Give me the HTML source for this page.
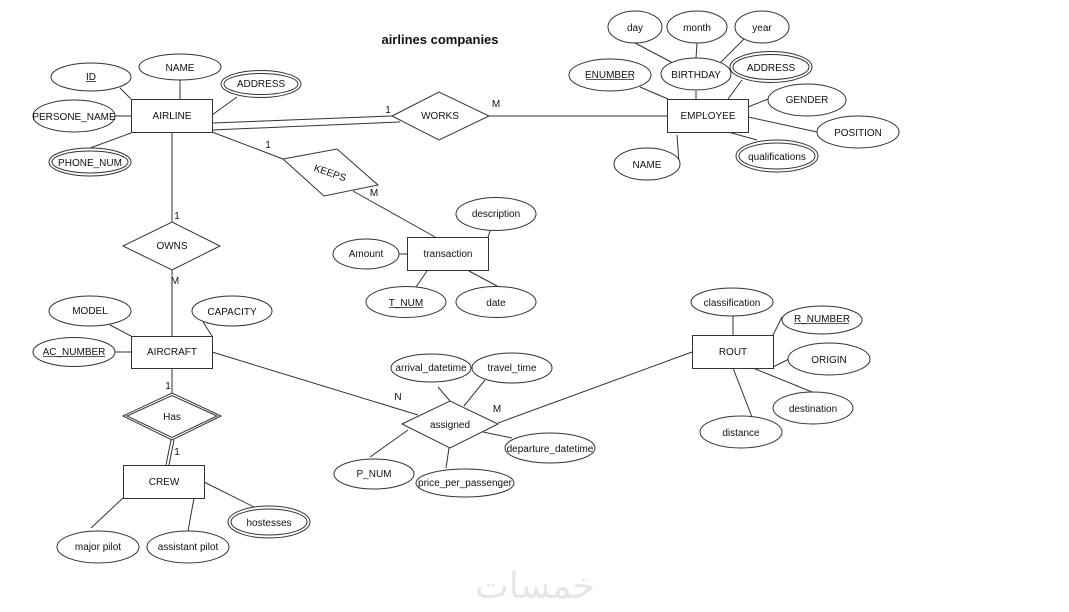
<!DOCTYPE html>
<html><head><meta charset="utf-8">
<style>
html,body{margin:0;padding:0;background:#fff;}
svg{display:block;}
text{font-family:"Liberation Sans",Arial,sans-serif;font-size:10px;fill:#111;}
</style></head>
<body>
<svg width="1069" height="612" viewBox="0 0 1069 612" xmlns="http://www.w3.org/2000/svg">
<g stroke="#333" stroke-width="1" fill="none">
<!-- AIRLINE attrs -->
<line x1="120" y1="88" x2="131" y2="99"/>
<line x1="180" y1="80" x2="180" y2="99"/>
<line x1="237" y1="97" x2="212" y2="115"/>
<line x1="115" y1="116" x2="131" y2="116"/>
<line x1="90" y1="148" x2="131" y2="133"/>
<!-- AIRLINE-WORKS double -->
<line x1="212" y1="123" x2="392" y2="116"/>
<line x1="212" y1="130" x2="400" y2="122"/>
<!-- WORKS-EMPLOYEE -->
<line x1="489" y1="116" x2="667" y2="116"/>
<!-- AIRLINE-KEEPS -->
<line x1="212" y1="132" x2="283" y2="159"/>
<line x1="353" y1="191" x2="435" y2="237"/>
<!-- AIRLINE-OWNS -->
<line x1="172" y1="132" x2="172" y2="222"/>
<line x1="172" y1="270" x2="172" y2="336"/>
<!-- EMPLOYEE attrs -->
<line x1="635" y1="43" x2="673" y2="63"/>
<line x1="697" y1="43" x2="696" y2="58"/>
<line x1="744" y1="39" x2="720" y2="63"/>
<line x1="696" y1="91" x2="696" y2="99"/>
<line x1="640" y1="87" x2="668" y2="99"/>
<line x1="742" y1="80" x2="728" y2="99"/>
<line x1="768" y1="99" x2="748" y2="107"/>
<line x1="748" y1="117" x2="817" y2="132"/>
<line x1="728" y1="132" x2="757" y2="140"/>
<line x1="677" y1="135" x2="679" y2="163"/>
<!-- transaction attrs -->
<line x1="490" y1="231" x2="488" y2="237"/>
<line x1="399" y1="254" x2="407" y2="254"/>
<line x1="427" y1="271" x2="416" y2="287"/>
<line x1="469" y1="271" x2="497" y2="286"/>
<!-- AIRCRAFT attrs -->
<line x1="110" y1="325" x2="131" y2="336"/>
<line x1="203" y1="322" x2="212" y2="336"/>
<line x1="115" y1="352" x2="131" y2="352"/>
<line x1="212" y1="352" x2="418" y2="415"/>
<!-- AIRCRAFT-Has -->
<line x1="172" y1="368" x2="172" y2="393"/>
<line x1="171" y1="440" x2="166" y2="465"/>
<line x1="174" y1="440" x2="169" y2="465"/>
<!-- CREW attrs -->
<line x1="123" y1="498" x2="91" y2="528"/>
<line x1="194" y1="498" x2="188" y2="531"/>
<line x1="204" y1="482" x2="258" y2="509"/>
<!-- assigned attrs -->
<line x1="438" y1="387" x2="450" y2="401"/>
<line x1="485" y1="380" x2="464" y2="406"/>
<line x1="483" y1="432" x2="512" y2="438"/>
<line x1="408" y1="430" x2="370" y2="457"/>
<line x1="449" y1="448" x2="446" y2="468"/>
<line x1="498" y1="423" x2="692" y2="352"/>
<!-- ROUT attrs -->
<line x1="733" y1="316" x2="733" y2="335"/>
<line x1="782" y1="317" x2="773" y2="335"/>
<line x1="789" y1="359" x2="773" y2="367"/>
<line x1="753" y1="368" x2="812" y2="392"/>
<line x1="733" y1="368" x2="752" y2="417"/>
</g>

<g stroke="#333" stroke-width="1" fill="#fff">
<!-- entities -->
<rect x="131.5" y="99.5" width="81" height="33"/>
<rect x="667.5" y="99.5" width="81" height="33"/>
<rect x="407.5" y="237.5" width="81" height="33"/>
<rect x="131.5" y="336.5" width="81" height="32"/>
<rect x="123.5" y="465.5" width="81" height="33"/>
<rect x="692.5" y="335.5" width="81" height="33"/>
<!-- relationships -->
<polygon points="392,116 439,92 489,116 439,140"/>
<polygon points="283,159 337,149 378,185 324,196"/>
<polygon points="123,246 172,222 220,246 172,270"/>
<polygon points="402,424 450,401 498,424 450,448"/>
<polygon points="123,416 172,393 221,416 172,440"/>
<polygon points="127,416 172,395.5 217,416 172,437.5"/>
<!-- AIRLINE attrs -->
<ellipse cx="91" cy="77" rx="40" ry="14"/>
<ellipse cx="180" cy="67" rx="41" ry="13"/>
<ellipse cx="261" cy="84" rx="40" ry="13.5"/>
<ellipse cx="261" cy="84" rx="37" ry="10.5"/>
<ellipse cx="74" cy="116" rx="41" ry="16"/>
<ellipse cx="90" cy="162" rx="41" ry="14"/>
<ellipse cx="90" cy="162" rx="38" ry="11"/>
<!-- EMPLOYEE attrs -->
<ellipse cx="635" cy="27" rx="27" ry="16"/>
<ellipse cx="697" cy="27" rx="30" ry="16"/>
<ellipse cx="762" cy="27" rx="27" ry="16"/>
<ellipse cx="696" cy="74" rx="35" ry="16"/>
<ellipse cx="610" cy="75" rx="41" ry="16"/>
<ellipse cx="771" cy="67" rx="41" ry="15.5"/>
<ellipse cx="771" cy="67" rx="38" ry="12.5"/>
<ellipse cx="807" cy="100" rx="39" ry="16"/>
<ellipse cx="858" cy="132" rx="41" ry="16"/>
<ellipse cx="777" cy="156" rx="41" ry="16"/>
<ellipse cx="777" cy="156" rx="38" ry="13"/>
<ellipse cx="647" cy="164" rx="33" ry="16"/>
<!-- transaction attrs -->
<ellipse cx="496" cy="214" rx="40" ry="16.5"/>
<ellipse cx="366" cy="254" rx="33" ry="15"/>
<ellipse cx="406" cy="302" rx="40" ry="15.5"/>
<ellipse cx="496" cy="302" rx="40" ry="15.5"/>
<!-- AIRCRAFT attrs -->
<ellipse cx="90" cy="311" rx="41" ry="15"/>
<ellipse cx="232" cy="311" rx="40" ry="15"/>
<ellipse cx="74" cy="352" rx="41" ry="14.5"/>
<!-- CREW attrs -->
<ellipse cx="98" cy="547" rx="41" ry="16"/>
<ellipse cx="188" cy="547" rx="41" ry="16"/>
<ellipse cx="269" cy="522" rx="41" ry="16"/>
<ellipse cx="269" cy="522" rx="38" ry="13"/>
<!-- assigned attrs -->
<ellipse cx="431" cy="368" rx="40" ry="14"/>
<ellipse cx="512" cy="368" rx="40" ry="15"/>
<ellipse cx="550" cy="448" rx="45" ry="15"/>
<ellipse cx="374" cy="474" rx="40" ry="15"/>
<ellipse cx="465" cy="483" rx="49" ry="14"/>
<!-- ROUT attrs -->
<ellipse cx="732" cy="302" rx="41" ry="14"/>
<ellipse cx="822" cy="320" rx="40" ry="14"/>
<ellipse cx="829" cy="359" rx="41" ry="16"/>
<ellipse cx="813" cy="408" rx="40" ry="16"/>
<ellipse cx="741" cy="432" rx="41" ry="16"/>
</g>

<g text-anchor="middle">
<text x="440" y="44" style="font-size:13px;font-weight:bold;">airlines companies</text>
<text x="172" y="119">AIRLINE</text>
<text x="708" y="119">EMPLOYEE</text>
<text x="448" y="257">transaction</text>
<text x="172" y="355">AIRCRAFT</text>
<text x="164" y="485">CREW</text>
<text x="733" y="355">ROUT</text>
<text x="440" y="119">WORKS</text>
<text x="172" y="249">OWNS</text>
<text x="450" y="428">assigned</text>
<text x="172" y="420">Has</text>
<text x="0" y="0" transform="translate(329,176) rotate(19)">KEEPS</text>

<text x="91" y="80">ID</text>
<text x="180" y="71">NAME</text>
<text x="261" y="87">ADDRESS</text>
<text x="74" y="120">PERSONE_NAME</text>
<text x="90" y="166">PHONE_NUM</text>

<text x="635" y="31">day</text>
<text x="697" y="31">month</text>
<text x="762" y="31">year</text>
<text x="696" y="78">BIRTHDAY</text>
<text x="610" y="78">ENUMBER</text>
<text x="771" y="71">ADDRESS</text>
<text x="807" y="103">GENDER</text>
<text x="858" y="136">POSITION</text>
<text x="777" y="160">qualifications</text>
<text x="647" y="168">NAME</text>

<text x="496" y="217">description</text>
<text x="366" y="257">Amount</text>
<text x="406" y="306">T_NUM</text>
<text x="496" y="306">date</text>

<text x="90" y="314">MODEL</text>
<text x="232" y="315">CAPACITY</text>
<text x="74" y="355">AC_NUMBER</text>

<text x="98" y="550">major pilot</text>
<text x="188" y="550">assistant pilot</text>
<text x="269" y="526">hostesses</text>

<text x="431" y="371">arrival_datetime</text>
<text x="512" y="371">travel_time</text>
<text x="550" y="452">departure_datetime</text>
<text x="374" y="477">P_NUM</text>
<text x="465" y="486">price_per_passenger</text>

<text x="732" y="306">classification</text>
<text x="822" y="322">R_NUMBER</text>
<text x="829" y="363">ORIGIN</text>
<text x="813" y="412">destination</text>
<text x="741" y="436">distance</text>

<!-- cardinalities -->
<text x="388" y="113">1</text>
<text x="496" y="107">M</text>
<text x="268" y="148">1</text>
<text x="374" y="196">M</text>
<text x="177" y="219">1</text>
<text x="175" y="284">M</text>
<text x="168" y="389">1</text>
<text x="177" y="455">1</text>
<text x="398" y="400">N</text>
<text x="497" y="412">M</text>
</g>

<!-- underlines -->
<g stroke="#222" stroke-width="0.8">
<line x1="86" y1="81.5" x2="96" y2="81.5"/>
<line x1="586" y1="79.5" x2="634" y2="79.5"/>
<line x1="389" y1="307.5" x2="423" y2="307.5"/>
<line x1="43" y1="356.5" x2="105" y2="356.5"/>
<line x1="794" y1="323.5" x2="849" y2="323.5"/>
</g>

<text x="535" y="598" text-anchor="middle" style="font-family:'DejaVu Sans',sans-serif;font-size:36px;fill:#e6e6e6;">خمسات</text>
</svg>
</body></html>
